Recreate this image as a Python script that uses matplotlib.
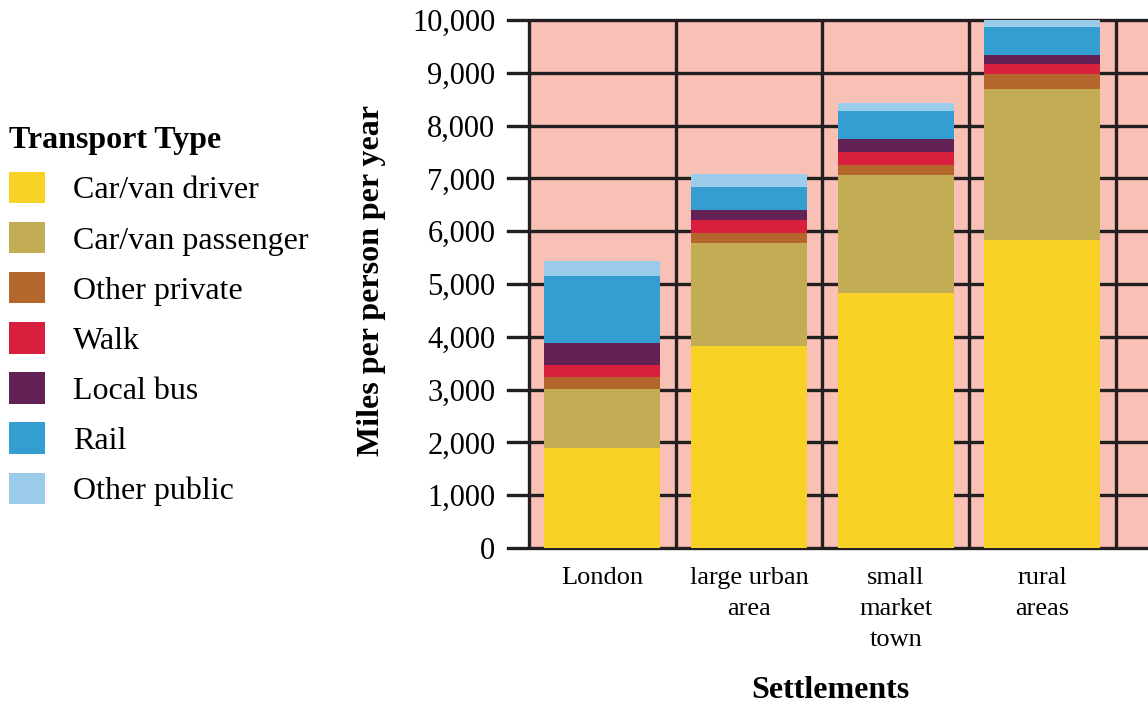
import matplotlib
matplotlib.use("Agg")
import matplotlib.pyplot as plt
from matplotlib.patches import Patch
import numpy as np

plt.rcParams['font.family'] = ['Liberation Serif', 'DejaVu Serif']

# miles per person per year, by settlement type
settlements = ["London", "large urban\narea", "small\nmarket\ntown", "rural\nareas"]
modes = ["Car/van driver", "Car/van passenger", "Other private", "Walk",
         "Local bus", "Rail", "Other public"]
car_driver = [1900, 3830, 4830, 5830]
car_passenger = [1110, 1950, 2230, 2860]
other_private = [230, 190, 190, 285]
walk = [230, 250, 250, 190]
local_bus = [415, 190, 250, 170]
rail = [1270, 435, 530, 530]
other_public = [285, 245, 150, 150]

series = [car_driver, car_passenger, other_private, walk, local_bus, rail, other_public]
colours = ["#F7D126", "#C2AD55", "#B3672C", "#D81F3D", "#632256", "#349ED1", "#9BCCE9"]

ink = "#231F20"
pink = "#F9C1B6"

fig = plt.figure(figsize=(11.48, 7.06), dpi=100)
ax = fig.add_axes([508 / 1148, 158 / 706, 640 / 1148, 528 / 706])

x = np.arange(len(settlements))
ax.set_xlim(-0.643, 3.72)
ax.set_ylim(0, 10000)

# pink plot area and the column separators
ax.axvspan(-0.5, 3.72, color=pink, zorder=0.2, lw=0)
for b in np.arange(-0.5, 4, 1.0):
    ax.axvline(b, color=ink, lw=2.4, zorder=1)

bottom = np.zeros(len(settlements))
for vals, col in zip(series, colours):
    ax.bar(x, vals, width=0.79, bottom=bottom, color=col, lw=0, zorder=2)
    bottom += np.array(vals)

ax.set_yticks(np.arange(0, 10001, 1000))
ax.set_yticklabels([f"{v:,}" for v in range(0, 10001, 1000)], fontsize=22)
ax.set_xticks(x)
ax.set_xticklabels(settlements, fontsize=19, linespacing=1.52, va="top")
ax.tick_params(axis="y", length=0, pad=9)
ax.tick_params(axis="x", length=0, pad=14)

ax.set_axisbelow(True)
ax.yaxis.grid(True, color=ink, lw=2.4)
ax.xaxis.grid(False)
for gl in ax.get_ygridlines():
    gl.set_clip_on(False)
    gl.set_zorder(0.5)
for s in ax.spines.values():
    s.set_visible(False)

fig.text(830 / 1148, 1 - 690 / 706, "Settlements", fontsize=23, fontweight="bold",
         ha="center", va="center")
fig.text(372 / 1148, 1 - 280 / 706, "Miles per person per year", fontsize=23,
         fontweight="bold", rotation=90, ha="center", va="center")

handles = [Patch(facecolor=c, edgecolor="none") for c in colours]
leg = fig.legend(handles, modes, loc="upper left", bbox_to_anchor=(3 / 1148, 1 - 120 / 706),
                 frameon=False, fontsize=23, title="Transport Type",
                 title_fontproperties={"weight": "bold", "size": 23},
                 handlelength=1.13, handleheight=1.13, handletextpad=0.85,
                 labelspacing=0.52, borderpad=0.2, borderaxespad=0)
leg._legend_box.align = "left"

fig.savefig("out.png", dpi=100)
